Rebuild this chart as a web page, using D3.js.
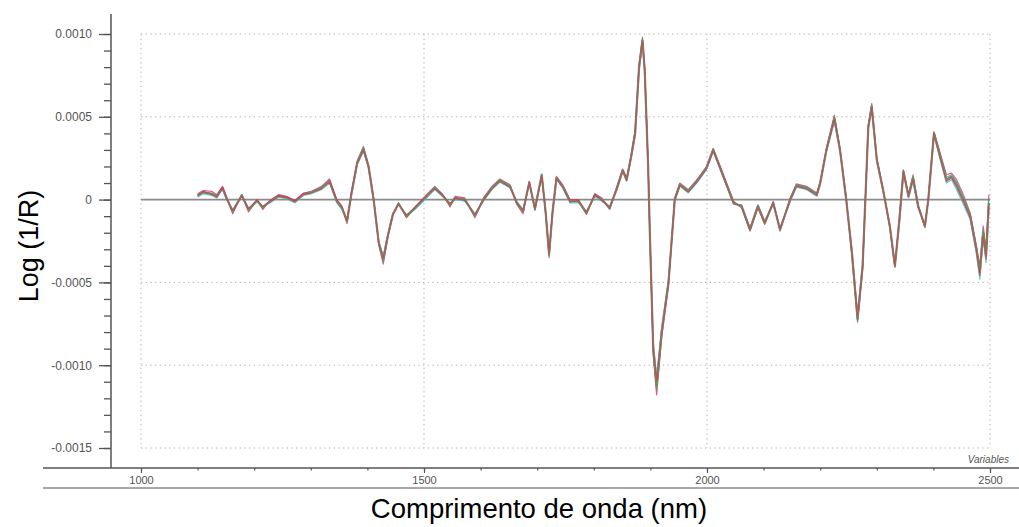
<!DOCTYPE html>
<html>
<head>
<meta charset="utf-8">
<script src="https://cdn.jsdelivr.net/npm/d3@7"></script>
<style>
  body { margin: 0; background: #fff; }
  svg { display: block; font-family: "Liberation Sans", Arial, sans-serif; }
</style>
</head>
<body>
<svg id="chart" width="1019" height="527"></svg>
<script>
// wavelengths (nm)
const waves = [1100,1110,1125,1134,1144,1151,1162,1178,1190,1205,1215,1228,1243,1257,1272,1287,1301,1319,1333,1346,
  1355,1364,1372,1382,1393,1402,1411,1420,1428,1436,1445,1455,1469,1484,1499,1519,1532,1546,1555,1572,
  1590,1605,1620,1634,1652,1664,1675,1686,1696,1708,1715,1721,1727,1734,1745,1758,1773,1787,1802,1814,
  1828,1840,1851,1858,1866,1873,1880,1886,1890,1896,1899,1905,1911,1920,1932,1943,1952,1967,1982,1999,
  2011,2029,2047,2061,2076,2090,2102,2117,2129,2147,2158,2176,2194,2200,2211,2225,2235,2246,2256,2266,
  2275,2285,2291,2300,2311,2323,2332,2340,2347,2356,2364,2373,2385,2391,2401,2412,2423,2432,2441,2453,
  2465,2476,2482,2488,2493,2498]

// sample spectra, values in units of 1e-4
const sampleA = [0.25,0.45,0.35,0.2,0.72,0.1,-0.7,0.26,-0.6,-0.06,-0.46,-0.1,0.24,0.14,-0.1,0.34,0.44,0.7,1.14,-0.1,
  -0.5,-1.3,0.4,2.2,3.05,2.0,0.0,-2.6,-3.6,-2.2,-0.9,-0.25,-1.0,-0.5,0,0.7,0.3,-0.3,0.1,0,
  -0.96,0,0.7,1.16,0.8,-0.2,-0.7,1.04,-0.56,1.5,-0.8,-3.3,-0.8,1.3,0.8,-0.1,-0.1,-0.8,0.3,0,
  -0.5,0.6,1.77,1.2,2.6,4.0,8.0,9.6,7.8,2.0,-2.0,-9.0,-11.2,-8.0,-5.0,0,0.9,0.5,1.1,1.9,
  3.0,1.4,-0.2,-0.4,-1.8,-0.4,-1.4,-0.2,-1.8,0,0.84,0.7,0.3,1.0,3.0,4.9,3.0,0,-3.2,-7.2,
  -4.0,4.4,5.6,2.4,0.6,-1.6,-4.0,-1.2,1.7,0.2,1.3,-0.4,-1.6,0,4.0,2.6,1.2,1.4,0.9,0,
  -1.0,-3.0,-4.4,-2.0,-3.4,-0.2]
const sampleB = [0.35,0.55,0.5,0.3,0.8,0.2,-0.85,0.3,-0.75,0.0,-0.6,-0.05,0.3,0.2,-0.05,0.4,0.5,0.8,1.25,0.0,
  -0.4,-1.45,0.5,2.35,3.2,2.1,0.1,-2.7,-3.9,-2.3,-0.95,-0.2,-1.1,-0.45,0.1,0.8,0.35,-0.45,0.2,0.1,
  -1.1,0.1,0.8,1.25,0.9,-0.3,-0.85,1.1,-0.65,1.45,-0.9,-3.5,-0.7,1.4,0.9,0.0,0.0,-0.9,0.35,0.1,
  -0.6,0.7,1.85,1.3,2.7,4.2,8.2,9.8,7.9,2.2,-2.2,-9.4,-11.8,-8.3,-5.2,0.1,1.0,0.6,1.2,2.0,
  3.1,1.5,-0.1,-0.5,-1.9,-0.5,-1.5,-0.1,-1.9,0.1,0.95,0.8,0.4,1.1,3.1,5.1,3.1,0.1,-3.4,-7.4,
  -4.2,4.5,5.8,2.5,0.7,-1.7,-4.1,-1.0,1.8,0.3,1.5,-0.3,-1.7,0.1,4.1,2.8,1.5,1.6,1.2,0.3,
  -0.8,-2.8,-4.0,-1.6,-3.0,0.3]
const sampleC = [0.15,0.35,0.25,0.1,0.6,0.0,-0.6,0.2,-0.5,-0.15,-0.4,-0.2,0.15,0.05,-0.2,0.25,0.35,0.6,1.0,-0.2,
  -0.6,-1.2,0.3,2.1,2.9,1.9,-0.1,-2.5,-3.4,-2.1,-0.8,-0.3,-0.9,-0.6,-0.1,0.6,0.2,-0.2,0.0,-0.1,
  -0.85,-0.1,0.6,1.05,0.7,-0.1,-0.6,0.95,-0.45,1.55,-0.7,-3.1,-0.9,1.2,0.7,-0.2,-0.2,-0.7,0.2,-0.1,
  -0.4,0.5,1.7,1.1,2.5,3.8,7.8,9.4,7.7,1.8,-1.8,-8.6,-10.6,-7.7,-4.8,-0.1,0.8,0.4,1.0,1.8,
  2.9,1.3,-0.3,-0.3,-1.7,-0.3,-1.3,-0.3,-1.7,-0.1,0.75,0.6,0.2,0.9,2.9,4.7,2.9,-0.1,-3.0,-6.9,
  -3.8,4.3,5.4,2.3,0.5,-1.5,-3.9,-1.4,1.6,0.1,1.1,-0.5,-1.5,-0.1,3.9,2.4,1.0,1.2,0.6,-0.3,
  -1.2,-3.3,-4.8,-2.4,-3.8,-0.6]
const sampleD = [0.3,0.4,0.4,0.25,0.65,0.15,-0.75,0.3,-0.65,-0.1,-0.5,-0.1,0.2,0.1,-0.15,0.3,0.45,0.75,1.1,-0.15,
  -0.55,-1.35,0.35,2.25,3.15,2.05,0.05,-2.65,-3.75,-2.25,-0.85,-0.2,-1.05,-0.55,0.05,0.75,0.25,-0.35,0.05,0.05,
  -1.0,0.05,0.75,1.2,0.85,-0.25,-0.75,1.0,-0.6,1.5,-0.85,-3.4,-0.75,1.35,0.85,-0.05,-0.15,-0.85,0.25,0.05,
  -0.55,0.65,1.8,1.25,2.65,4.1,8.1,9.7,7.9,2.1,-2.1,-9.2,-11.5,-8.1,-5.1,0.05,0.95,0.55,1.15,1.95,
  3.05,1.45,-0.15,-0.45,-1.85,-0.45,-1.45,-0.15,-1.85,0.05,0.9,0.75,0.35,1.05,3.05,5.0,3.05,0.05,-3.3,-7.3,
  -4.1,4.45,5.7,2.45,0.65,-1.65,-4.05,-1.1,1.75,0.25,1.4,-0.35,-1.65,0.05,4.05,2.7,1.35,1.5,1.05,0.15,
  -0.9,-2.9,-4.2,-1.8,-3.2,0.1]
const sampleE = [0.2,0.5,0.3,0.15,0.7,0.05,-0.65,0.22,-0.55,-0.05,-0.42,-0.15,0.2,0.12,-0.12,0.3,0.4,0.65,1.05,-0.05,
  -0.45,-1.25,0.42,2.15,3.0,1.95,-0.05,-2.55,-3.5,-2.15,-0.9,-0.28,-0.95,-0.5,0.02,0.65,0.28,-0.25,0.08,-0.05,
  -0.9,-0.05,0.65,1.1,0.75,-0.15,-0.65,1.0,-0.5,1.45,-0.75,-3.2,-0.85,1.25,0.75,-0.15,-0.05,-0.75,0.28,-0.05,
  -0.45,0.55,1.72,1.15,2.55,3.9,7.9,9.5,7.7,1.9,-1.9,-8.8,-10.9,-7.8,-4.9,-0.05,0.85,0.45,1.05,1.85,
  2.95,1.35,-0.25,-0.35,-1.75,-0.35,-1.35,-0.25,-1.75,-0.05,0.8,0.65,0.25,0.95,2.95,4.8,2.95,-0.05,-3.1,-7.0,
  -3.9,4.35,5.5,2.35,0.55,-1.55,-3.95,-1.3,1.65,0.15,1.2,-0.45,-1.55,-0.05,3.95,2.5,1.1,1.3,0.75,-0.15,
  -1.1,-3.1,-4.6,-2.2,-3.6,-0.4]

const samples = [sampleA, sampleB, sampleC, sampleD, sampleE]
const sampleColors = ["#6c7488", "#d8307a", "#35c4cc", "#3fb04a", "#d84040"]

const xMajor = [1000, 1500, 2000, 2500]
const yMajor = [0.001, 0.0005, 0, -0.0005, -0.001, -0.0015]

const svg = d3.select("#chart")
const x = d3.scaleLinear().domain([1000, 2500]).range([141, 990])
const y = d3.scaleLinear().domain([-0.0015, 0.001]).range([448, 34])

// dotted grid
const grid = svg.append("g").attr("stroke", "#b0b0b0").attr("stroke-width", 1)
  .attr("stroke-dasharray", "1.3,3.4")
grid.selectAll("line.v").data(xMajor).enter().append("line")
  .attr("x1", d => x(d)).attr("x2", d => x(d))
  .attr("y1", y(0.001)).attr("y2", y(-0.0015))
grid.selectAll("line.h").data(yMajor.filter(d => d !== 0)).enter().append("line")
  .attr("x1", x(1000)).attr("x2", x(2500))
  .attr("y1", d => y(d)).attr("y2", d => y(d))

// zero line
svg.append("line")
  .attr("x1", x(1000)).attr("x2", x(2500))
  .attr("y1", y(0)).attr("y2", y(0))
  .attr("stroke", "#8a8a8a").attr("stroke-width", 1.6)

// spectra
const line = d3.line()
  .x((d, i) => x(waves[i]))
  .y(d => y(d * 1e-4))
svg.append("g").selectAll("path")
  .data(samples)
  .enter().append("path")
  .attr("d", line)
  .attr("fill", "none")
  .attr("stroke", (d, i) => sampleColors[i])
  .attr("stroke-width", (d, i) => i == 0 ? 2.2 : 1.2)
  .attr("stroke-opacity", (d, i) => i == 0 ? 0.9 : 0.8)
  .attr("stroke-linejoin", "round")

// y axis
const fmtY = d => d === 0 ? "0" : d3.format(".4f")(d).replace("\u2212", "-")
const yAxis = svg.append("g").attr("transform", "translate(111,0)")
yAxis.call(d3.axisLeft(y).tickValues(d3.range(-15, 11).map(d => d * 1e-4)).tickSize(7).tickFormat(""))
yAxis.append("g").call(d3.axisLeft(y).tickValues(yMajor).tickSize(12).tickPadding(7).tickFormat(fmtY))
yAxis.selectAll(".domain").remove()
yAxis.append("line").attr("y1", 14).attr("y2", 468).attr("stroke", "#555").attr("stroke-width", 1.5)
yAxis.selectAll(".tick line").attr("stroke", "#555").attr("stroke-width", 1.3)
yAxis.selectAll(".tick text").attr("fill", "#555").style("font-size", "12px")

// x axis
const xAxis = svg.append("g").attr("transform", "translate(0,468)")
xAxis.call(d3.axisBottom(x).tickValues(d3.range(1000, 2501, 100)).tickSize(2.5).tickFormat(""))
xAxis.append("g").call(d3.axisBottom(x).tickValues(xMajor).tickSize(5).tickPadding(3).tickFormat(d3.format("d")))
xAxis.selectAll(".domain").remove()
xAxis.append("line").attr("x1", 43).attr("x2", 1019).attr("stroke", "#555").attr("stroke-width", 1.5)
xAxis.append("line").attr("x1", 43).attr("x2", 1019).attr("y1", 20).attr("y2", 20).attr("stroke", "#555").attr("stroke-width", 1.2)
xAxis.selectAll(".tick line").attr("stroke", "#555").attr("stroke-width", 1.2)
xAxis.selectAll(".tick text").attr("fill", "#555").style("font-size", "11px")

svg.append("text")
  .attr("x", 1009).attr("y", 463)
  .attr("text-anchor", "end")
  .attr("fill", "#555")
  .style("font-size", "10px").style("font-style", "italic")
  .text("Variables")

// titles
svg.append("text")
  .attr("x", 539).attr("y", 518)
  .attr("text-anchor", "middle")
  .style("font-size", "27.5px")
  .text("Comprimento de onda (nm)")
svg.append("text")
  .attr("transform", "translate(38,246) rotate(-90)")
  .attr("text-anchor", "middle")
  .style("font-size", "27px")
  .text("Log (1/R)")
</script>
</body>
</html>
